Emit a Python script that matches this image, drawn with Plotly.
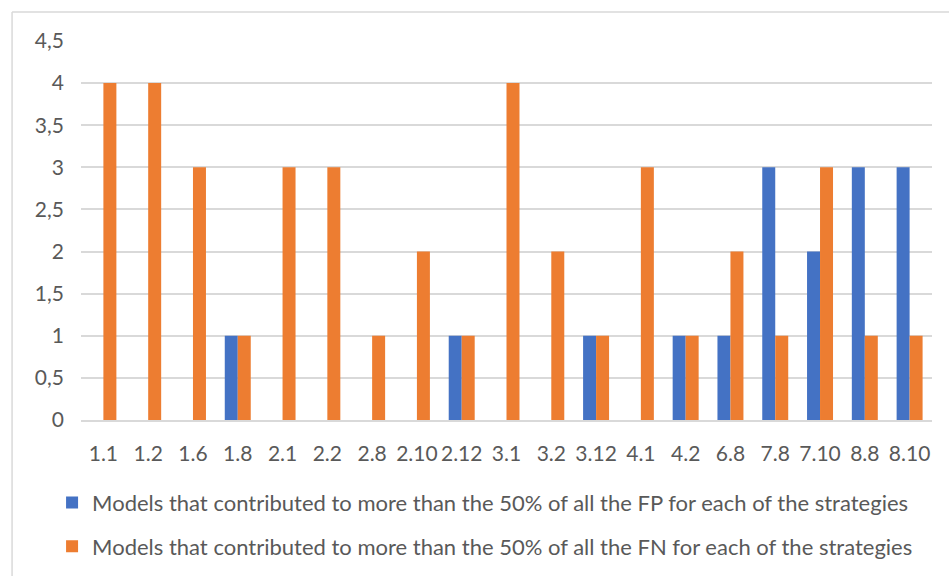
import plotly.graph_objects as go

strategies = ["1.1", "1.2", "1.6", "1.8", "2.1", "2.2", "2.8", "2.10", "2.12", "3.1",
              "3.2", "3.12", "4.1", "4.2", "6.8", "7.8", "7.10", "8.8", "8.10"]
fp_models = [0, 0, 0, 1, 0, 0, 0, 0, 1, 0, 0, 1, 0, 1, 1, 3, 2, 3, 3]
fn_models = [4, 4, 3, 1, 3, 3, 1, 2, 1, 4, 2, 1, 3, 1, 2, 1, 3, 1, 1]

fp_name = "Models that contributed to more than the 50% of all the FP for each of the strategies"
fn_name = "Models that contributed to more than the 50% of all the FN for each of the strategies"

font_family = "Lato, 'Open Sans', sans-serif"
text_color = "#595959"

fig = go.Figure()
fig.add_trace(go.Bar(x=strategies, y=fp_models, name=fp_name,
                     marker=dict(color="#4472C4", line=dict(width=0)), legendgroup="fp"))
fig.add_trace(go.Bar(x=strategies, y=fn_models, name=fn_name,
                     marker=dict(color="#ED7D31", line=dict(width=0)), legendgroup="fn"))

fig.update_layout(
    width=949, height=576,
    margin=dict(l=81, r=17, t=41, b=156, autoexpand=False),
    paper_bgcolor="white", plot_bgcolor="white",
    separators=",.",
    barmode="group", bargap=0.42, bargroupgap=0,
    font=dict(family=font_family, color=text_color, size=21),
    xaxis=dict(type="category", showgrid=False, showline=True, linecolor="#d9d9d9",
               linewidth=1.5, ticks="", ticklabelstandoff=14,
               tickfont=dict(size=21, color=text_color)),
    yaxis=dict(range=[0, 4.5], dtick=0.5, showgrid=True, gridcolor="#d9d9d9",
               gridwidth=1.5, zeroline=False, showline=False, ticks="",
               ticklabelstandoff=16, tickfont=dict(size=21, color=text_color)),
    legend=dict(orientation="v", x=-0.034, y=-0.163, xanchor="left", yanchor="top",
                font=dict(size=22, color=text_color), tracegroupgap=12,
                itemwidth=30, bgcolor="rgba(0,0,0,0)"),
    showlegend=True,
)

# chart frame lines (top and left edges)
frame = dict(color="#d9d9d9", width=1.5)
fig.add_shape(type="line", xref="paper", yref="paper", x0=-0.081, x1=1.05,
              y0=1.0765, y1=1.0765, line=frame)
fig.add_shape(type="line", xref="paper", yref="paper", x0=-0.081, x1=-0.081,
              y0=1.0765, y1=-0.5, line=frame)

fig.write_html("out.html")
